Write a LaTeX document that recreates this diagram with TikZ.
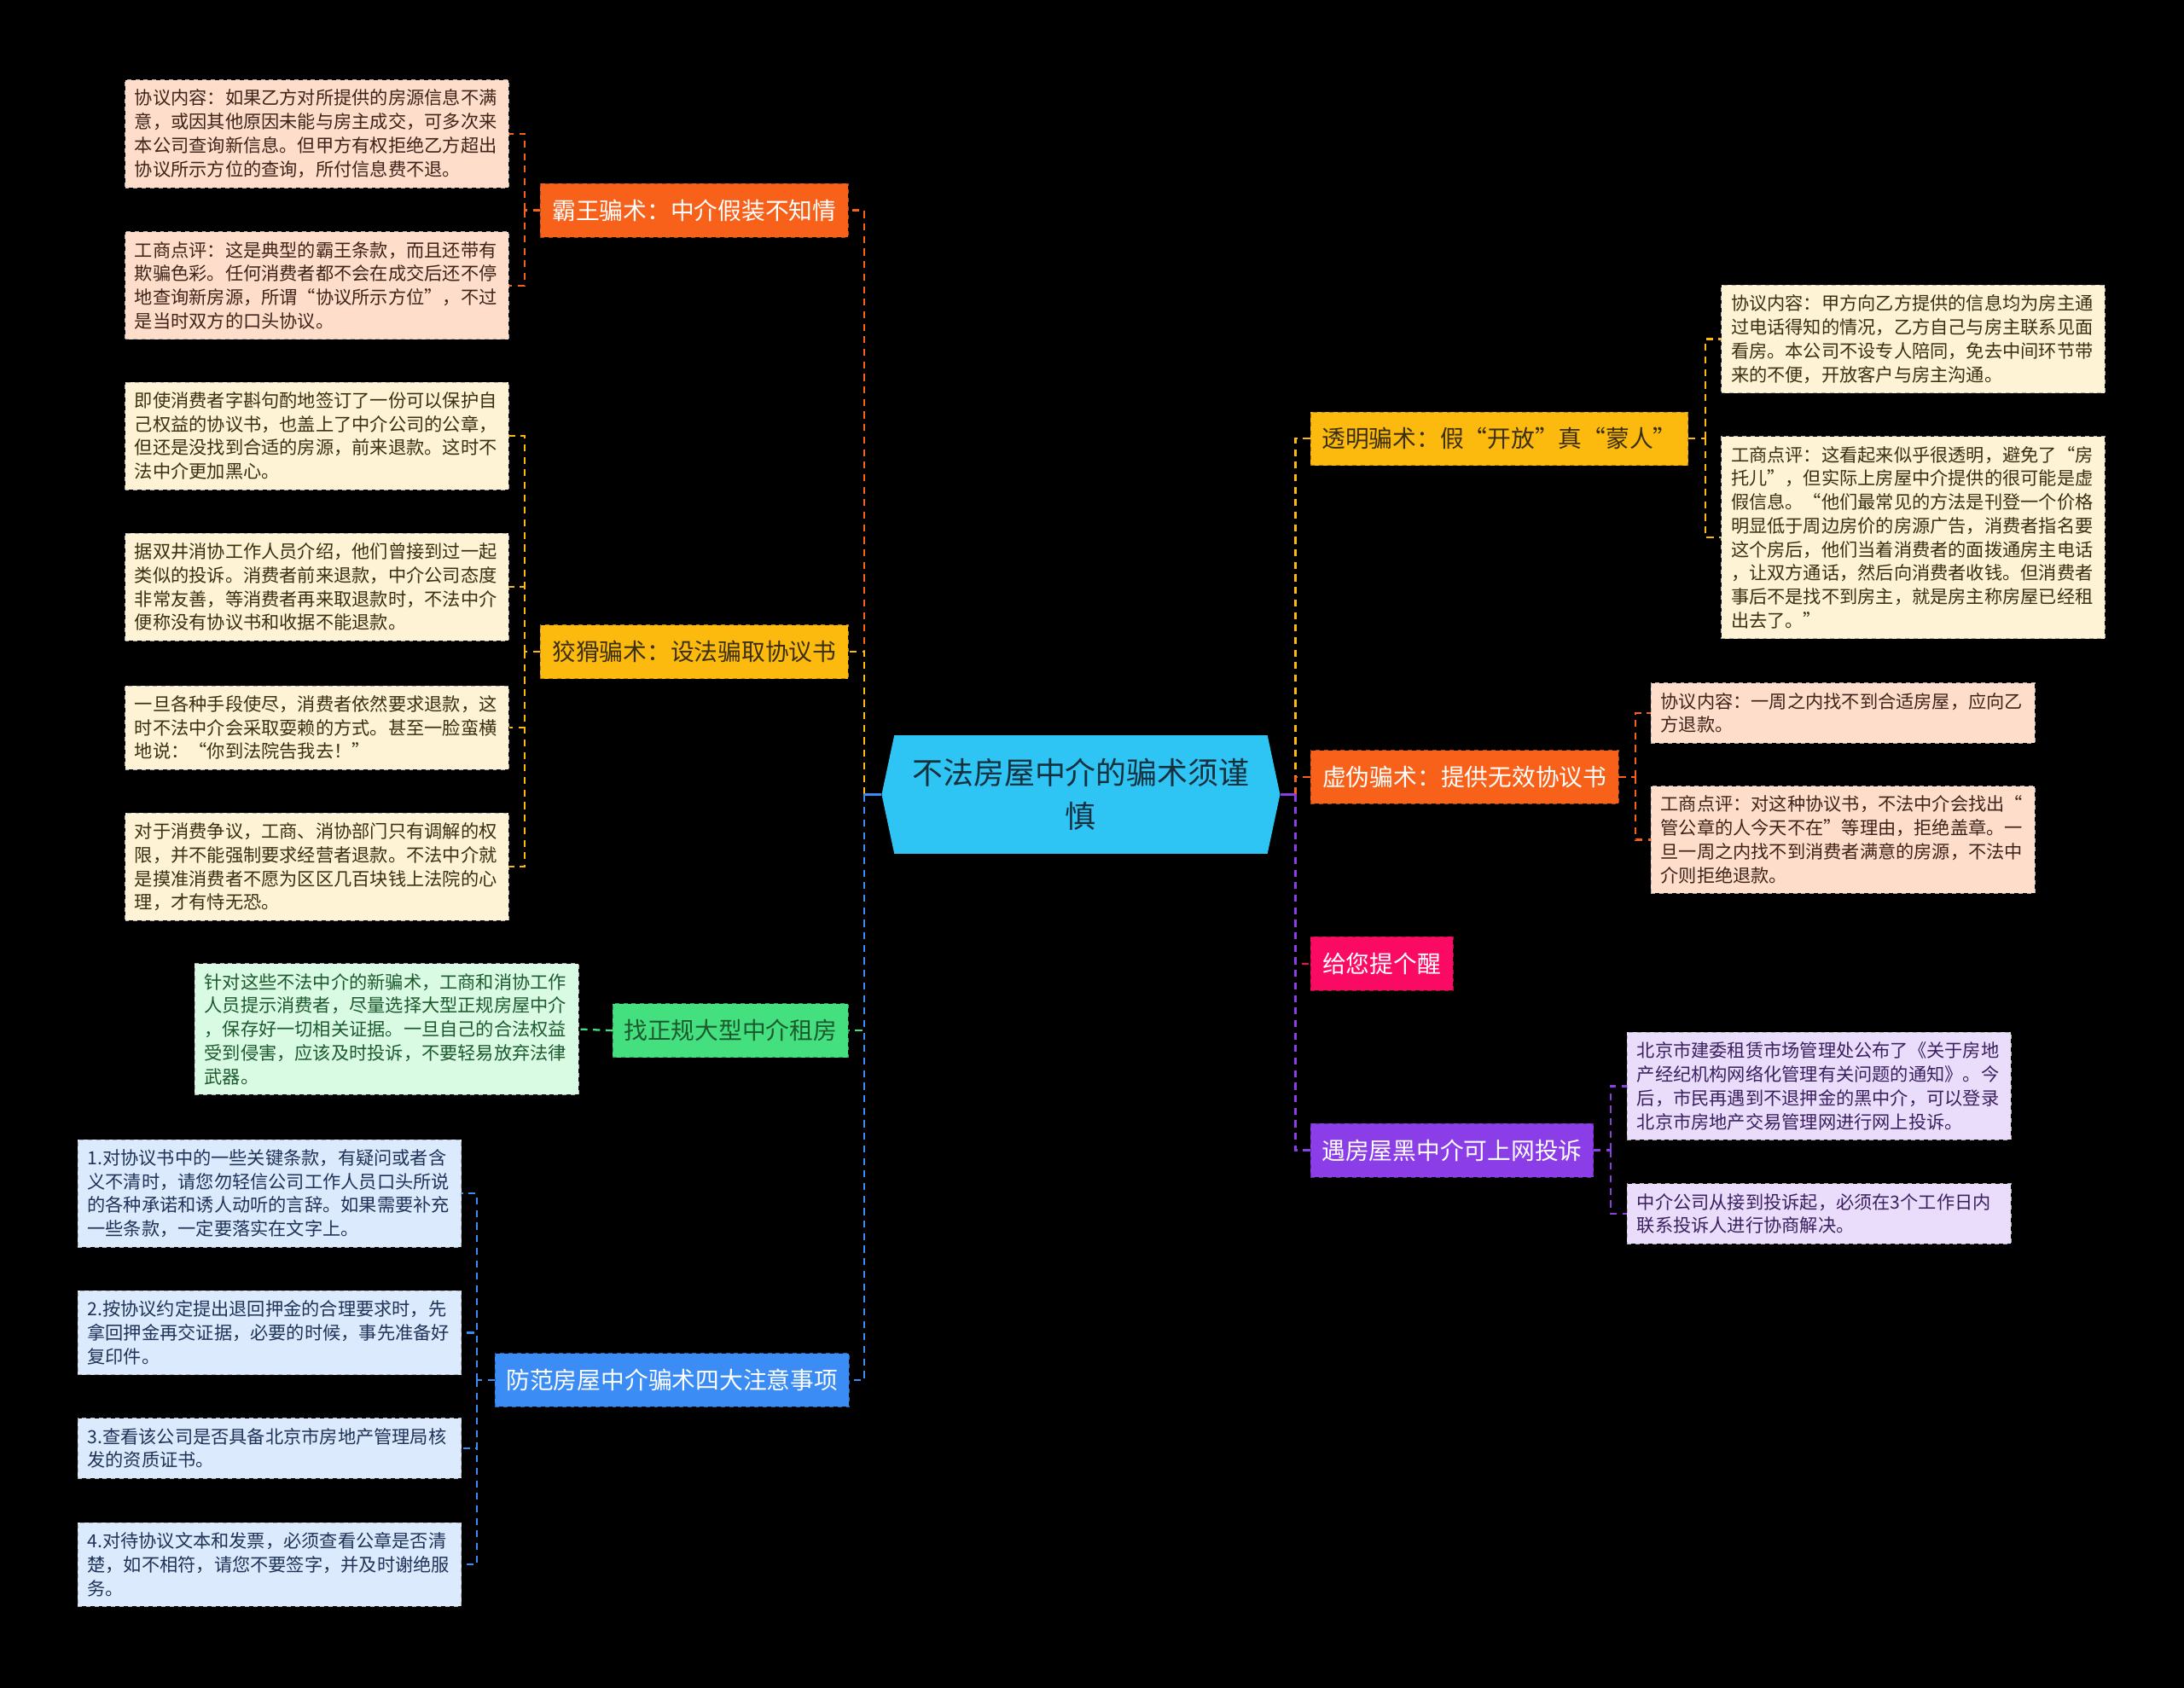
\documentclass[tikz,border=0pt]{standalone}
\usepackage{fontspec}
\setmainfont{Noto Sans CJK SC}
\usetikzlibrary{shapes.symbols}
\definecolor{fondo}{HTML}{000000}
\definecolor{ciano}{HTML}{2EC4F4}
\definecolor{arancio}{HTML}{F8611A}
\definecolor{oro}{HTML}{FCBA0E}
\definecolor{verde}{HTML}{44E07F}
\definecolor{blu}{HTML}{3C8CF5}
\definecolor{rosa}{HTML}{FB0A64}
\definecolor{viola}{HTML}{8B3DE8}
\definecolor{pesca}{HTML}{FEDDCB}
\definecolor{crema}{HTML}{FEF4D5}
\definecolor{menta}{HTML}{D9FBE4}
\definecolor{cielo}{HTML}{DCEAFE}
\definecolor{lilla}{HTML}{EADDFB}
\definecolor{marrone}{HTML}{3E2418}
\definecolor{oliva}{HTML}{3B2F10}
\definecolor{bosco}{HTML}{1C5A2E}
\definecolor{notte}{HTML}{1E3357}
\definecolor{prugna}{HTML}{3B2060}
\definecolor{inchiostro}{HTML}{16303E}
\tikzset{
  tema/.style        = {shape=signal, signal to=west and east, signal pointer angle=156, fill=ciano, text=inchiostro,
                        minimum width=286pt, minimum height=85pt, align=center, font=\fontsize{22}{31}\selectfont},
  ramo/.style 2 args = {rectangle, fill=#1, draw=#1!70!black, dashed, text=#2, minimum height=38.5pt,
                        inner xsep=8pt, font=\fontsize{17}{20}\selectfont},
  nota/.style 2 args = {rectangle, fill=#1, draw=black!30, dashed, text=#2, text width=261.5pt,
                        inner xsep=7pt, inner ysep=7pt, align=left, font=\fontsize{13}{17}\selectfont},
  filo/.style        = {draw=#1, line width=1.4pt, dash pattern=on 5pt off 4pt},
  asse/.style        = {draw=#1, line width=1.6pt}
}
\begin{document}
\begin{tikzpicture}[x=1pt,y=-1pt]

  \fill[fondo] (0,0) rectangle (1568,1212);
  \useasboundingbox (0,0) rectangle (1568,1212);

  \node[tema] (root) at (776,570.5) {不法房屋中介的骗术须谨\\慎};
  \coordinate (tl) at (620.5,570.5);
  \coordinate (tr) at (930,570.5);

  \node[ramo={arancio}{white}, minimum width=221pt]   (bawang) at (498.5,151) {霸王骗术：中介假装不知情};
  \node[ramo={oro}{oliva}, minimum width=221pt]       (jiaohua) at (498.5,468) {狡猾骗术：设法骗取协议书};
  \node[ramo={verde}{bosco}, minimum width=169pt]     (zhengui) at (524.5,740) {找正规大型中介租房};
  \node[ramo={blu}{white}, minimum width=253pt]       (fangfan) at (482.5,991) {防范房屋中介骗术四大注意事项};
  \node[ramo={oro}{oliva}, minimum width=271pt]       (touming) at (1076.5,315) {透明骗术：假“开放”真“蒙人”};
  \node[ramo={arancio}{white}, minimum width=221pt]   (xuwei) at (1051.5,558) {虚伪骗术：提供无效协议书};
  \node[ramo={rosa}{white}, minimum width=102pt]      (tixing) at (992,692) {给您提个醒};
  \node[ramo={viola}{white}, minimum width=203pt]     (tousu) at (1042.5,826) {遇房屋黑中介可上网投诉};

  \node[nota={pesca}{marrone}] (a1) at (227.5,96) {协议内容：如果乙方对所提供的房源信息不满\\意，或因其他原因未能与房主成交，可多次来\\本公司查询新信息。但甲方有权拒绝乙方超出\\协议所示方位的查询，所付信息费不退。};
  \node[nota={pesca}{marrone}] (a2) at (227.5,205) {工商点评：这是典型的霸王条款，而且还带有\\欺骗色彩。任何消费者都不会在成交后还不停\\地查询新房源，所谓“协议所示方位”，不过\\是当时双方的口头协议。};

  \node[nota={crema}{oliva}] (b1) at (227.5,313) {即使消费者字斟句酌地签订了一份可以保护自\\己权益的协议书，也盖上了中介公司的公章，\\但还是没找到合适的房源，前来退款。这时不\\法中介更加黑心。};
  \node[nota={crema}{oliva}] (b2) at (227.5,421.5) {据双井消协工作人员介绍，他们曾接到过一起\\类似的投诉。消费者前来退款，中介公司态度\\非常友善，等消费者再来取退款时，不法中介\\便称没有协议书和收据不能退款。};
  \node[nota={crema}{oliva}] (b3) at (227.5,522.5) {一旦各种手段使尽，消费者依然要求退款，这\\时不法中介会采取耍赖的方式。甚至一脸蛮横\\地说：“你到法院告我去！”};
  \node[nota={crema}{oliva}] (b4) at (227.5,622.5) {对于消费争议，工商、消协部门只有调解的权\\限，并不能强制要求经营者退款。不法中介就\\是摸准消费者不愿为区区几百块钱上法院的心\\理，才有恃无恐。};

  \node[nota={menta}{bosco}] (c1) at (277.5,739) {针对这些不法中介的新骗术，工商和消协工作\\人员提示消费者，尽量选择大型正规房屋中介\\，保存好一切相关证据。一旦自己的合法权益\\受到侵害，应该及时投诉，不要轻易放弃法律\\武器。};

  \node[nota={cielo}{notte}] (d1) at (193.5,857) {1.对协议书中的一些关键条款，有疑问或者含\\义不清时，请您勿轻信公司工作人员口头所说\\的各种承诺和诱人动听的言辞。如果需要补充\\一些条款，一定要落实在文字上。};
  \node[nota={cielo}{notte}] (d2) at (193.5,957) {2.按协议约定提出退回押金的合理要求时，先\\拿回押金再交证据，必要的时候，事先准备好\\复印件。};
  \node[nota={cielo}{notte}] (d3) at (193.5,1040) {3.查看该公司是否具备北京市房地产管理局核\\发的资质证书。};
  \node[nota={cielo}{notte}] (d4) at (193.5,1123.5) {4.对待协议文本和发票，必须查看公章是否清\\楚，如不相符，请您不要签字，并及时谢绝服\\务。};

  \node[nota={crema}{oliva}] (e1) at (1373.5,243.5) {协议内容：甲方向乙方提供的信息均为房主通\\过电话得知的情况，乙方自己与房主联系见面\\看房。本公司不设专人陪同，免去中间环节带\\来的不便，开放客户与房主沟通。};
  \node[nota={crema}{oliva}] (e2) at (1373.5,386) {工商点评：这看起来似乎很透明，避免了“房\\托儿”，但实际上房屋中介提供的很可能是虚\\假信息。“他们最常见的方法是刊登一个价格\\明显低于周边房价的房源广告，消费者指名要\\这个房后，他们当着消费者的面拨通房主电话\\，让双方通话，然后向消费者收钱。但消费者\\事后不是找不到房主，就是房主称房屋已经租\\出去了。”};

  \node[nota={pesca}{marrone}] (f1) at (1323,512) {协议内容：一周之内找不到合适房屋，应向乙\\方退款。};
  \node[nota={pesca}{marrone}] (f2) at (1323,603) {工商点评：对这种协议书，不法中介会找出“\\管公章的人今天不在”等理由，拒绝盖章。一\\旦一周之内找不到消费者满意的房源，不法中\\介则拒绝退款。};

  \node[nota={lilla}{prugna}] (g1) at (1306,780) {北京市建委租赁市场管理处公布了《关于房地\\产经纪机构网络化管理有关问题的通知》。今\\后，市民再遇到不退押金的黑中介，可以登录\\北京市房地产交易管理网进行网上投诉。};
  \node[nota={lilla}{prugna}] (g2) at (1306,871.5) {中介公司从接到投诉起，必须在3个工作日内\\联系投诉人进行协商解决。};

  \draw[filo=arancio] (tl) |- (bawang.east);
  \draw[filo=oro]     (tl) |- (jiaohua.east);
  \draw[filo=verde]   (tl) |- (zhengui.east);
  \draw[filo=blu]     (tl) |- (fangfan.east);
  \draw[asse=blu]     (tl) -- (root.west);

  \draw[filo=oro]     (tr) |- (touming.west);
  \draw[filo=arancio] (tr) |- (xuwei.west);
  \draw[filo=rosa]    (tr) |- (tixing.west);
  \draw[filo=viola]   (tr) |- (tousu.west);
  \draw[asse=viola]   (root.east) -- (tr);

  \coordinate (ka) at ([xshift=-11pt]bawang.west);
  \draw[filo=arancio] (bawang.west) -- (ka); \draw[filo=arancio] (ka) |- (a1.east); \draw[filo=arancio] (ka) |- (a2.east);
  \coordinate (kb) at ([xshift=-11pt]jiaohua.west);
  \draw[filo=oro] (jiaohua.west) -- (kb);
  \foreach \n in {b1,b2,b3,b4} \draw[filo=oro] (kb) |- (\n.east);
  \draw[filo=verde] (zhengui.west) -- (c1.east);
  \coordinate (kd) at ([xshift=-13pt]fangfan.west);
  \draw[filo=blu] (fangfan.west) -- (kd);
  \foreach \n in {d1,d2,d3,d4} \draw[filo=blu] (kd) |- (\n.east);

  \coordinate (ke) at ([xshift=12pt]touming.east);
  \draw[filo=oro] (touming.east) -- (ke); \draw[filo=oro] (ke) |- (e1.west); \draw[filo=oro] (ke) |- (e2.west);
  \coordinate (kf) at ([xshift=12pt]xuwei.east);
  \draw[filo=arancio] (xuwei.east) -- (kf); \draw[filo=arancio] (kf) |- (f1.west); \draw[filo=arancio] (kf) |- (f2.west);
  \coordinate (kg) at ([xshift=12pt]tousu.east);
  \draw[filo=viola] (tousu.east) -- (kg); \draw[filo=viola] (kg) |- (g1.west); \draw[filo=viola] (kg) |- (g2.west);

\end{tikzpicture}
\end{document}
